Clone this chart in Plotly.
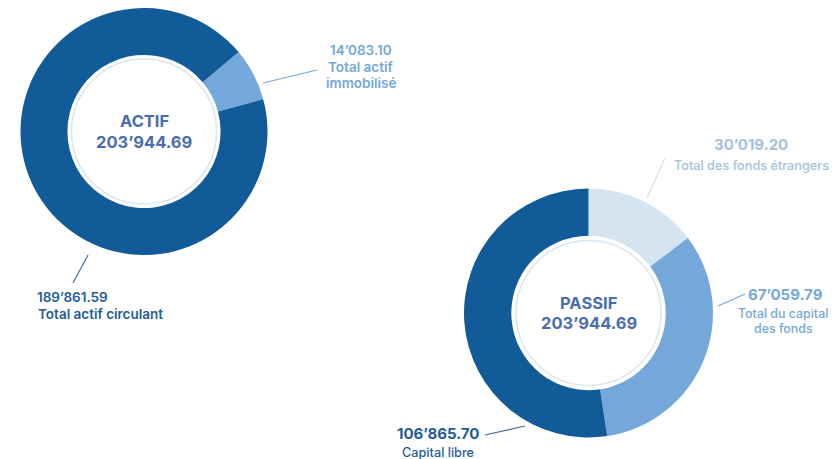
import plotly.graph_objects as go

W, H = 831, 451     # page body has an 8px margin
OFF = 8

# ---- data ----
actif_labels = ["Total actif immobilisé", "Total actif circulant"]
actif_values = [14083.10, 189861.59]
actif_colors = ["#74A8DA", "#115B98"]
actif_total = "203’944.69"

passif_labels = ["Total des fonds étrangers", "Total du capital des fonds", "Capital libre"]
passif_values = [30019.20, 67059.79, 106865.70]
passif_colors = ["#D4E5F1", "#74A8DA", "#115B98"]
passif_total = "203’944.69"

value_texts = ["14’083.10", "189’861.59", "30’019.20", "67’059.79", "106’865.70"]

def px(x):
    return (x - OFF) / W

def py(y):
    return 1 - (y - OFF) / H

def clamp(v):
    return min(1.0, max(0.0, v))

def dom(cx, cy, r):
    return dict(x=[clamp(px(cx - r)), clamp(px(cx + r))],
                y=[clamp(py(cy + r)), clamp(py(cy - r))])

FONT = "Inter"
CENTER_COL = "#4A6DAE"

fig = go.Figure()
fig.add_trace(go.Pie(
    labels=actif_labels, values=actif_values, hole=0.62, sort=False,
    direction="clockwise", rotation=50,
    marker=dict(colors=actif_colors, line=dict(width=0)),
    textinfo="none", hoverinfo="label+value", domain=dom(144, 131.5, 123.5),
    showlegend=False,
))
fig.add_trace(go.Pie(
    labels=passif_labels, values=passif_values, hole=0.62, sort=False,
    direction="clockwise", rotation=0,
    marker=dict(colors=passif_colors, line=dict(width=0)),
    textinfo="none", hoverinfo="label+value", domain=dom(588.5, 313, 124.5),
    showlegend=False,
))

shapes = []
for cx, cy, r in [(144, 131.5, 72.5), (588.5, 313, 72.5)]:
    shapes.append(dict(type="circle", xref="paper", yref="paper",
                       x0=px(cx - r), x1=px(cx + r), y0=py(cy + r), y1=py(cy - r),
                       line=dict(color="#D8E6F2", width=1.5)))

def seg(x0, y0, x1, y1, color):
    shapes.append(dict(type="line", xref="paper", yref="paper",
                       x0=px(x0), y0=py(y0), x1=px(x1), y1=py(y1),
                       line=dict(color=color, width=1.2)))

seg(263, 83, 317, 70, "#74A8DA")
seg(88, 255, 73, 283, "#3F67AE")
seg(647, 198, 665, 158, "#CFE0EE")
seg(718, 306, 745, 294, "#74A8DA")
seg(485, 435, 525, 426, "#3F67AE")

ann = []

def txt(x, y, s, size, color, weight=700):
    ann.append(dict(xref="paper", yref="paper", x=px(x), y=py(y), text=s,
                    showarrow=False, xanchor="center", yanchor="middle",
                    font=dict(family=FONT, size=size, color=color, weight=weight)))

# centers
txt(144, 121, "ACTIF", 16.5, CENTER_COL)
txt(144, 142, actif_total, 16.5, CENTER_COL)
txt(588.5, 303, "PASSIF", 16.5, CENTER_COL)
txt(588.5, 323, passif_total, 16.5, CENTER_COL)

# actif labels
txt(361, 50, value_texts[0], 13.5, "#74A8DA", 600)
txt(361, 67, "Total actif", 13.5, "#74A8DA", 600)
txt(361, 83, "immobilisé", 13.5, "#74A8DA", 600)
txt(72, 297, value_texts[1], 13.5, "#1F5C99", 600)
txt(100, 314, "Total actif circulant", 13.5, "#1F5C99", 600)

# passif labels
txt(751, 145, value_texts[2], 15, "#A3C0DC", 700)
txt(751, 165, "Total des fonds étrangers", 12.7, "#A3C0DC", 500)
txt(785, 294, value_texts[3], 15, "#74A8DA", 700)
txt(783, 313, "Total du capital", 12.4, "#74A8DA", 500)
txt(783, 328, "des fonds", 12.4, "#74A8DA", 500)
txt(438, 433, value_texts[4], 15, "#1F5C99", 700)
txt(438, 452, "Capital libre", 12.7, "#1F5C99", 500)

fig.update_layout(
    width=W, height=H, margin=dict(l=0, r=0, t=0, b=0),
    paper_bgcolor="white", plot_bgcolor="white",
    shapes=shapes, annotations=ann,
)
fig.write_html("out.html")
